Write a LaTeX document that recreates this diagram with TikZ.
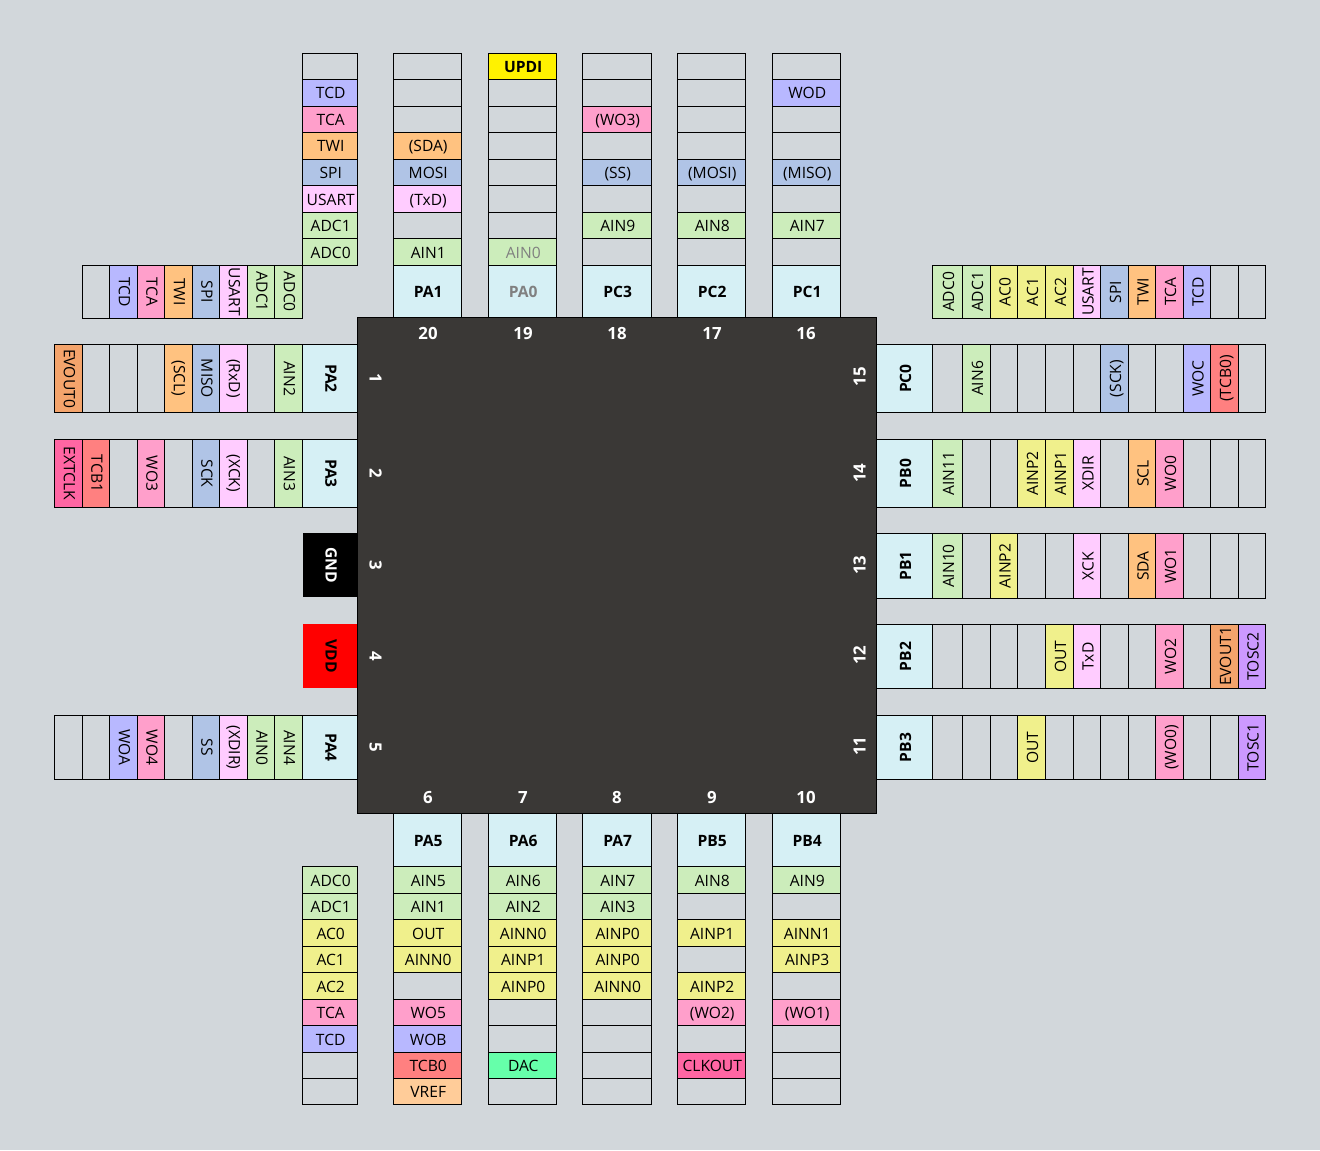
\documentclass[tikz,border=0pt]{standalone}
\usepackage{fontspec}
\setmainfont{Open Sans}
\definecolor{cbg}{HTML}{D2D7DB}
\definecolor{cchip}{HTML}{3A3836}
\tikzset{
  cellbox/.style={draw=black,line width=0.75pt,inner sep=0pt,outer sep=0pt,
    font=\fontsize{11.7}{13}\selectfont,text height=9pt,text depth=0pt,align=center,text=black},
  kn/.style={},
  kadc/.style={fill={rgb,255:red,204;green,237;blue,187}},
  ktcd/.style={fill={rgb,255:red,184;green,184;blue,255}},
  ktca/.style={fill={rgb,255:red,255;green,159;blue,203}},
  ktwi/.style={fill={rgb,255:red,255;green,194;blue,128}},
  kspi/.style={fill={rgb,255:red,176;green,196;blue,230}},
  kusr/.style={fill={rgb,255:red,255;green,204;blue,255}},
  kac/.style={fill={rgb,255:red,240;green,240;blue,140}},
  kevo/.style={fill={rgb,255:red,244;green,164;blue,108}},
  ktcb/.style={fill={rgb,255:red,255;green,128;blue,128}},
  kext/.style={fill={rgb,255:red,255;green,102;blue,163}},
  ktos/.style={fill={rgb,255:red,204;green,153;blue,255}},
  kdac/.style={fill={rgb,255:red,102;green,255;blue,170}},
  kvrf/.style={fill={rgb,255:red,255;green,204;blue,153}},
  kupd/.style={fill=yellow,font=\fontsize{11.7}{13}\selectfont\bfseries,text=black},
  kpin/.style={fill={rgb,255:red,214;green,240;blue,245},font=\fontsize{11.7}{13}\selectfont\bfseries,text=black},
  kgry/.style={kadc,text=black!50},
  kgpn/.style={kpin,text=black!50},
  kgnd/.style={fill=black,draw=none,font=\fontsize{11.7}{13}\selectfont\bfseries,text=white},
  kvdd/.style={fill=red,draw=none,font=\fontsize{11.7}{13}\selectfont\bfseries,text=black},
  lefttext/.style={text height=8.35pt,text depth=1.5pt},
  righttext/.style={text height=9.85pt,text depth=0pt},
  pinnum/.style={inner sep=0pt,text=white,font=\fontsize{12.6}{13}\selectfont\bfseries,text height=9pt,text depth=0pt},
  chipbox/.style={draw=black,line width=0.75pt,fill=cchip,inner sep=0pt,outer sep=0pt}
}
% vertical strip: name, x1, x2, edge array, start index, items top to bottom
\newcommand{\vstrip}[6]{%
  \foreach \k/\t [count=\i from #5] in {#6} {%
    \pgfmathsetmacro\ya{#4[\i]}%
    \pgfmathsetmacro\yb{#4[\i+1]}%
    \pgfmathsetmacro\cw{(#3-#2)*0.75}%
    \pgfmathsetmacro\ch{(\yb-\ya)*0.75}%
    \node[cellbox,k\k,minimum width=\cw pt,minimum height=\ch pt] (#1-\i) at ({(#2+#3)/2},{(\ya+\yb)/2}) {\kern1.1pt\t};
  }%
}
% horizontal strip: name, y1, y2, edge array, start index, side style, angle, items left to right
\newcommand{\hstrip}[8]{%
  \foreach \k/\t [count=\i from #5] in {#8} {%
    \pgfmathsetmacro\xa{#4[\i]}%
    \pgfmathsetmacro\xb{#4[\i+1]}%
    \pgfmathsetmacro\cw{(#3-#2)*0.75}%
    \pgfmathsetmacro\ch{(\xb-\xa)*0.75}%
    \node[cellbox,k\k,#6,rotate=#7,minimum width=\cw pt,minimum height=\ch pt] (#1-\i) at ({(\xa+\xb)/2},{(#2+#3)/2}) {\t};
  }%
}
\def\eT{{53.5,79.5,106,132,159.5,185.5,212.5,238.5,265.5,318}}
\def\eB{{813.5,866.5,893.5,919.5,946.5,972.5,999.5,1025.5,1052.5,1078.5,1104.5}}
\def\eL{{54.5,82.5,109.5,137.5,164.5,192.5,219.5,247.5,274.5,302.5,357.5}}
\def\eR{{876.7,932.5,962.5,990.5,1017.5,1045.5,1073.5,1100.5,1128.5,1155.5,1183.5,1210.5,1238.5,1265.5}}
\def\ePw{{303,357.5}}
\begin{document}
\begin{tikzpicture}[x=0.75pt,y=-0.75pt]
\path[use as bounding box,fill=cbg] (0,0) rectangle (1320,1150);
% top
\vstrip{tf}{302.5}{357.5}{\eT}{0}{n/{},tcd/TCD,tca/TCA,twi/TWI,spi/SPI,usr/USART,adc/ADC1,adc/ADC0}
\vstrip{pa1}{393.5}{461.5}{\eT}{0}{n/{},n/{},n/{},twi/(SDA),spi/MOSI,usr/(TxD),n/{},adc/AIN1,pin/PA1}
\vstrip{pa0}{488.5}{556.5}{\eT}{0}{upd/UPDI,n/{},n/{},n/{},n/{},n/{},n/{},gry/AIN0,gpn/PA0}
\vstrip{pc3}{582.5}{651.5}{\eT}{0}{n/{},n/{},tca/(WO3),n/{},spi/(SS),n/{},adc/AIN9,n/{},pin/PC3}
\vstrip{pc2}{677.5}{745.5}{\eT}{0}{n/{},n/{},n/{},n/{},spi/(MOSI),n/{},adc/AIN8,n/{},pin/PC2}
\vstrip{pc1}{772.5}{840.5}{\eT}{0}{n/{},tcd/WOD,n/{},n/{},spi/(MISO),n/{},adc/AIN7,n/{},pin/PC1}
% bottom
\vstrip{bf}{302.5}{357.5}{\eB}{1}{adc/ADC0,adc/ADC1,ac/AC0,ac/AC1,ac/AC2,tca/TCA,tcd/TCD,n/{},n/{}}
\vstrip{pa5}{393.5}{461.5}{\eB}{0}{pin/PA5,adc/AIN5,adc/AIN1,ac/OUT,ac/AINN0,n/{},tca/WO5,tcd/WOB,tcb/TCB0,vrf/VREF}
\vstrip{pa6}{488.5}{556.5}{\eB}{0}{pin/PA6,adc/AIN6,adc/AIN2,ac/AINN0,ac/AINP1,ac/AINP0,n/{},n/{},dac/DAC,n/{}}
\vstrip{pa7}{582.5}{651.5}{\eB}{0}{pin/PA7,adc/AIN7,adc/AIN3,ac/AINP0,ac/AINP0,ac/AINN0,n/{},n/{},n/{},n/{}}
\vstrip{pb5}{677.5}{745.5}{\eB}{0}{pin/PB5,adc/AIN8,n/{},ac/AINP1,n/{},ac/AINP2,tca/(WO2),n/{},ext/CLKOUT,n/{}}
\vstrip{pb4}{772.5}{840.5}{\eB}{0}{pin/PB4,adc/AIN9,n/{},ac/AINN1,ac/AINP3,n/{},tca/(WO1),n/{},n/{},n/{}}
% left
\hstrip{lf}{265.5}{318.3}{\eL}{1}{lefttext}{-90}{n/{},tcd/TCD,tca/TCA,twi/TWI,spi/SPI,usr/USART,adc/ADC1,adc/ADC0}
\hstrip{pa2}{344.5}{412.5}{\eL}{0}{lefttext}{-90}{evo/EVOUT0,n/{},n/{},n/{},twi/(SCL),spi/MISO,usr/(RxD),n/{},adc/AIN2,pin/PA2}
\hstrip{pa3}{439.5}{507.5}{\eL}{0}{lefttext}{-90}{ext/EXTCLK,tcb/TCB1,n/{},tca/WO3,n/{},spi/SCK,usr/(XCK),n/{},adc/AIN3,pin/PA3}
\hstrip{gnd}{533}{597}{\ePw}{0}{lefttext}{-90}{gnd/GND}
\hstrip{vdd}{624}{688}{\ePw}{0}{lefttext}{-90}{vdd/VDD}
\hstrip{pa4}{715.5}{779.5}{\eL}{0}{lefttext}{-90}{n/{},n/{},tcd/WOA,tca/WO4,n/{},spi/SS,usr/(XDIR),adc/AIN0,adc/AIN4,pin/PA4}
% right
\hstrip{rf}{265.5}{318.3}{\eR}{1}{righttext}{90}{adc/ADC0,adc/ADC1,ac/AC0,ac/AC1,ac/AC2,usr/USART,spi/SPI,twi/TWI,tca/TCA,tcd/TCD,n/{},n/{}}
\hstrip{pc0}{344.5}{412.5}{\eR}{0}{righttext}{90}{pin/PC0,n/{},adc/AIN6,n/{},n/{},n/{},n/{},spi/(SCK),n/{},n/{},tcd/WOC,tcb/(TCB0),n/{}}
\hstrip{pb0}{439.5}{507.5}{\eR}{0}{righttext}{90}{pin/PB0,adc/AIN11,n/{},n/{},ac/AINP2,ac/AINP1,usr/XDIR,n/{},twi/SCL,tca/WO0,n/{},n/{},n/{}}
\hstrip{pb1}{533.5}{598.5}{\eR}{0}{righttext}{90}{pin/PB1,adc/AIN10,n/{},ac/AINP2,n/{},n/{},usr/XCK,n/{},twi/SDA,tca/WO1,n/{},n/{},n/{}}
\hstrip{pb2}{624.5}{688.5}{\eR}{0}{righttext}{90}{pin/PB2,n/{},n/{},n/{},n/{},ac/OUT,usr/TxD,n/{},n/{},tca/WO2,n/{},evo/EVOUT1,tos/TOSC2}
\hstrip{pb3}{715.5}{779.5}{\eR}{0}{righttext}{90}{pin/PB3,n/{},n/{},n/{},ac/OUT,n/{},n/{},n/{},n/{},tca/(WO0),n/{},n/{},tos/TOSC1}
% chip
\node[chipbox,minimum width=389.4pt,minimum height=371.6pt] (chip) at (617.1,565.7) {};
% pin numbers
\foreach \n/\x in {20/428,19/523,18/617,17/712,16/806} \node[pinnum] (num\n) at (\x,333.5) {\n};
\foreach \n/\x in {6/428,7/523,8/617,9/712,10/806} \node[pinnum] (num\n) at (\x,797.5) {\n};
\foreach \n/\y in {1/378,2/473,3/565,4/656,5/747} \node[pinnum,rotate=-90] (num\n) at (375.5,\y) {\n};
\foreach \n/\y in {15/376.5,14/473,13/565,12/655,11/746} \node[pinnum,rotate=90] (num\n) at (859.5,\y) {\n};
\end{tikzpicture}
\end{document}
